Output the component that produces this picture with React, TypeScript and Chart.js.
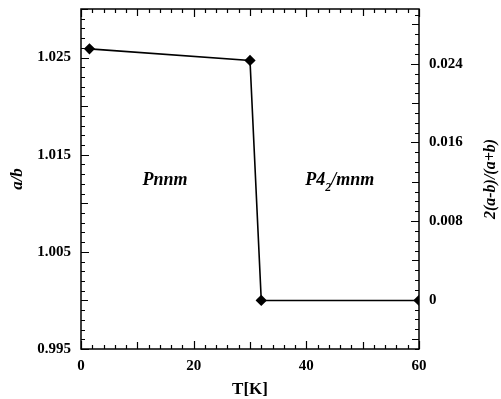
import React, { useEffect, useRef } from "react";
import { Chart, registerables } from "chart.js";

Chart.register(...registerables);

const temperatures = [1.5, 30, 32, 60];
const ratioAB = [1.0259, 1.0247, 1.0, 1.0];
const leftTicks = [0.995, 1.005, 1.015, 1.025];
const rightTicks = [0, 0.008, 0.016, 0.024];
const xTicks = [0, 20, 40, 60];

const SERIF = "'Liberation Serif', 'Times New Roman', serif";

const zeroPad = (s: any) => {
  s.paddingTop = 0;
  s.paddingBottom = 0;
  s.paddingLeft = 0;
  s.paddingRight = 0;
};

const inner = {
  id: "inner",
  afterDraw(chart: any) {
    const ctx = chart.ctx;
    const { left, right, top, bottom } = chart.chartArea;
    const x = chart.scales.x;
    const y = chart.scales.y;
    const y2 = chart.scales.y2;
    ctx.save();
    ctx.strokeStyle = "#000";
    ctx.lineWidth = 1.5;
    ctx.strokeRect(left, top, right - left, bottom - top);
    ctx.lineWidth = 1.2;
    ctx.beginPath();
    for (let i = 0; i <= 30; i++) {
      const v = i * 2;
      const px = Math.round(x.getPixelForValue(v)) + 0.5;
      const len = v % 20 === 0 ? 8 : v % 10 === 0 ? 7 : 4;
      ctx.moveTo(px, bottom);
      ctx.lineTo(px, bottom - len);
      ctx.moveTo(px, top);
      ctx.lineTo(px, top + len);
    }
    for (let i = 0; i <= 35; i++) {
      const v = 0.995 + i * 0.001;
      const py = Math.round(y.getPixelForValue(v)) + 0.5;
      const len = i % 10 === 0 ? 8 : i % 5 === 0 ? 7 : 4;
      ctx.moveTo(left, py);
      ctx.lineTo(left + len, py);
    }
    for (let i = -5; i <= 29; i++) {
      const v = i * 0.001;
      const py = Math.round(y2.getPixelForValue(v)) + 0.5;
      const len = i % 8 === 0 ? 8 : i % 4 === 0 ? 7 : 4;
      ctx.moveTo(right, py);
      ctx.lineTo(right - len, py);
    }
    ctx.stroke();

    ctx.fillStyle = "#000";
    ctx.textBaseline = "middle";
    ctx.font = `italic bold 18px ${SERIF}`;
    const ly = y.getPixelForValue(1.0124);
    ctx.textAlign = "center";
    ctx.fillText("Pnnm", x.getPixelForValue(14.9), ly);
    ctx.textAlign = "left";
    let sx = x.getPixelForValue(39.8);
    ctx.fillText("P4", sx, ly);
    sx += ctx.measureText("P4").width;
    ctx.font = `italic bold 12px ${SERIF}`;
    ctx.fillText("2", sx, ly + 8);
    sx += ctx.measureText("2").width;
    ctx.font = `italic bold 18px ${SERIF}`;
    ctx.fillText("/mnm", sx, ly);

    ctx.save();
    ctx.translate(491, (top + bottom) / 2);
    ctx.rotate(-Math.PI / 2);
    ctx.textAlign = "center";
    ctx.font = `italic bold 16px ${SERIF}`;
    ctx.fillText("2(a-b)/(a+b)", 0, 0);
    ctx.restore();
    ctx.restore();
  },
};

export default function App() {
  const ref = useRef<HTMLCanvasElement>(null);
  useEffect(() => {
    const canvas = ref.current;
    if (!canvas) return;
    const chart = new Chart(canvas, {
      type: "scatter",
      data: {
        datasets: [
          {
            data: temperatures.map((t, i) => ({ x: t, y: ratioAB[i] })),
            showLine: true,
            borderColor: "#000",
            backgroundColor: "#000",
            borderWidth: 1.6,
            pointStyle: "rectRot",
            pointRadius: 4.5,
            yAxisID: "y",
          },
        ],
      },
      options: {
        responsive: false,
        animation: false,
        events: [],
        layout: { padding: { top: 9, left: 0, right: 0, bottom: 0 } },
        plugins: { legend: { display: false }, tooltip: { enabled: false } },
        scales: {
          x: {
            type: "linear",
            min: 0,
            max: 60,
            afterBuildTicks: (s: any) => {
              s.ticks = xTicks.map((v) => ({ value: v }));
            },
            afterFit: (s: any) => {
              s.height = 50;
              zeroPad(s);
            },
            ticks: {
              color: "#000",
              padding: 8,
              font: { family: SERIF, size: 15, weight: "bold" },
            },
            grid: { display: false, drawTicks: false },
            border: { display: false },
            title: {
              display: true,
              text: "T[K]",
              color: "#000",
              padding: { top: 0, bottom: 1 },
              font: { family: SERIF, size: 17, weight: "bold", lineHeight: 1 },
            },
          },
          y: {
            type: "linear",
            position: "left",
            min: 0.995,
            max: 1.03,
            afterBuildTicks: (s: any) => {
              s.ticks = leftTicks.map((v) => ({ value: v }));
            },
            afterFit: (s: any) => {
              s.width = 81;
              zeroPad(s);
            },
            ticks: {
              color: "#000",
              padding: 10,
              callback: (v: any) => Number(v).toFixed(3),
              font: { family: SERIF, size: 15, weight: "bold" },
            },
            grid: { display: false, drawTicks: false },
            border: { display: false },
            title: {
              display: true,
              text: "a/b",
              color: "#000",
              padding: { top: 7, bottom: 0 },
              font: { family: SERIF, size: 17, weight: "bold", style: "italic" },
            },
          },
          y2: {
            type: "linear",
            position: "right",
            min: -0.00501,
            max: 0.02956,
            afterBuildTicks: (s: any) => {
              s.ticks = rightTicks.map((v) => ({ value: v }));
            },
            afterFit: (s: any) => {
              s.width = 82;
              zeroPad(s);
            },
            ticks: {
              color: "#000",
              padding: 10,
              callback: (v: any) => (Number(v) === 0 ? "0" : Number(v).toFixed(3)),
              font: { family: SERIF, size: 15, weight: "bold" },
            },
            grid: { display: false, drawTicks: false },
            border: { display: false },
          },
        },
      },
      plugins: [inner],
    } as any);
    return () => chart.destroy();
  }, []);
  return (
    <div style={{ position: "absolute", left: 0, top: 0, width: 501, height: 399, background: "#fff" }}>
      <canvas ref={ref} width={501} height={399} style={{ display: "block" }} />
    </div>
  );
}
